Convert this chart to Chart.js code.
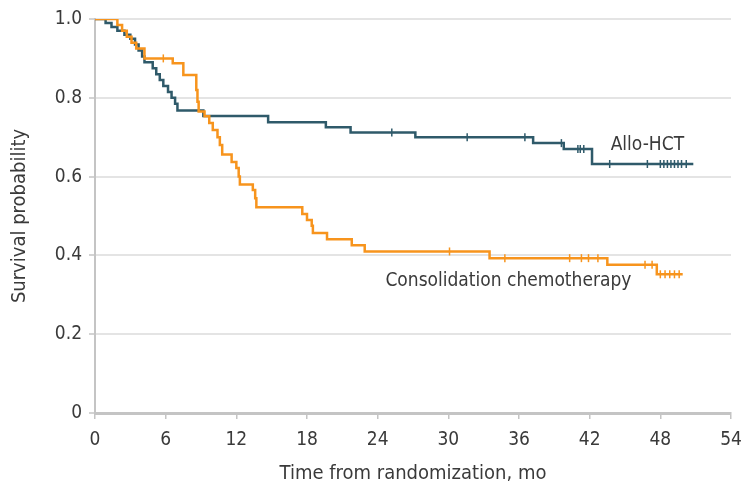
<!DOCTYPE html>
<html>
<head>
<meta charset="utf-8">
<script src="https://cdn.jsdelivr.net/npm/chart.js@4"></script>
<style>
  html, body { margin: 0; padding: 0; background: #fff; }
  #wrap { width: 741px; height: 486px; }
</style>
</head>
<body>
<div id="wrap"><canvas id="kmChart"></canvas></div>
<script>
// Kaplan-Meier step data: event times (months) and survival after each step
const alloTimes = [0, 0.9, 1.4, 1.9, 2.5, 3.0, 3.4, 3.7, 4.0, 4.2, 4.9, 5.2, 5.5, 5.8, 6.2, 6.5, 6.8, 7.0, 9.2, 14.7, 19.6, 21.7, 27.2, 37.2, 39.8, 42.2, 50.8];
const alloSurv  = [1.0, 0.99, 0.98, 0.97, 0.96, 0.95, 0.935, 0.92, 0.905, 0.89, 0.875, 0.86, 0.845, 0.83, 0.815, 0.80, 0.785, 0.768, 0.754, 0.738, 0.725, 0.712, 0.70, 0.685, 0.67, 0.632, 0.632];
const alloCensor = [25.2, 31.6, 36.5, 39.6, 41.0, 41.2, 41.5, 43.7, 46.9, 48.0, 48.3, 48.6, 48.9, 49.2, 49.5, 49.8, 50.2];

const chemoTimes = [0, 1.9, 2.3, 2.7, 3.1, 3.5, 4.2, 6.6, 7.5, 8.6, 8.7, 8.8, 9.3, 9.7, 10.0, 10.4, 10.6, 10.8, 11.6, 12.0, 12.2, 12.3, 13.4, 13.6, 13.7, 17.6, 18.0, 18.4, 18.5, 19.7, 21.8, 22.9, 33.5, 43.5, 47.7, 49.9];
const chemoSurv  = [1.0, 0.985, 0.97, 0.955, 0.94, 0.925, 0.90, 0.888, 0.858, 0.82, 0.79, 0.765, 0.753, 0.736, 0.718, 0.70, 0.68, 0.656, 0.637, 0.622, 0.60, 0.58, 0.566, 0.545, 0.522, 0.505, 0.49, 0.475, 0.457, 0.441, 0.426, 0.41, 0.393, 0.376, 0.352, 0.352];
const chemoCensor = [5.8, 30.1, 34.8, 40.3, 41.3, 41.9, 42.7, 46.7, 47.3, 48.0, 48.4, 48.8, 49.2, 49.6];

const xTicks = [0, 6, 12, 18, 24, 30, 36, 42, 48, 54];
const yTicks = [0, 0.2, 0.4, 0.6, 0.8, 1.0];

const TEAL = '#2f5a6a';
const ORANGE = '#f7941d';
const TEXT = '#3a3a3a';
const FONT = '"Liberation Sans Narrow", "DejaVu Sans Condensed", sans-serif';

function toPoints(times, surv) {
  return times.map((t, i) => ({ x: t, y: surv[i] }));
}

// survival level at time t (last step at or before t)
function survAt(times, surv, t) {
  let s = surv[0];
  for (let i = 0; i < times.length; i++) {
    if (times[i] <= t) s = surv[i];
  }
  return s;
}

function censorPoints(times, surv, cens) {
  return cens.map(t => ({ x: t, y: survAt(times, surv, t) }));
}

// curve labels drawn next to the lines
const curveLabels = {
  id: 'curveLabels',
  afterDatasetsDraw(chart) {
    const { ctx, scales } = chart;
    ctx.save();
    ctx.fillStyle = TEXT;
    ctx.font = '19px ' + FONT;
    ctx.textAlign = 'center';
    ctx.textBaseline = 'middle';
    ctx.fillText('Allo-HCT', scales.x.getPixelForValue(46.9), scales.y.getPixelForValue(0.68));
    ctx.fillText('Consolidation chemotherapy', scales.x.getPixelForValue(35.1), scales.y.getPixelForValue(0.335));
    ctx.restore();
  }
};

new Chart(document.getElementById('kmChart'), {
  type: 'line',
  data: {
    datasets: [
      {
        label: 'Consolidation chemotherapy',
        data: toPoints(chemoTimes, chemoSurv),
        borderColor: ORANGE,
        borderWidth: 2.5,
        stepped: true,
        pointRadius: 0,
        fill: false
      },
      {
        label: 'Allo-HCT',
        data: toPoints(alloTimes, alloSurv),
        borderColor: TEAL,
        borderWidth: 2.5,
        stepped: true,
        pointRadius: 0,
        fill: false
      },
      {
        type: 'scatter',
        label: 'chemo censored',
        data: censorPoints(chemoTimes, chemoSurv, chemoCensor),
        pointStyle: 'line',
        rotation: 90,
        pointRadius: 4,
        borderColor: ORANGE,
        borderWidth: 1.5
      },
      {
        type: 'scatter',
        label: 'allo censored',
        data: censorPoints(alloTimes, alloSurv, alloCensor),
        pointStyle: 'line',
        rotation: 90,
        pointRadius: 4,
        borderColor: TEAL,
        borderWidth: 1.5
      }
    ]
  },
  options: {
    responsive: true,
    maintainAspectRatio: false,
    animation: false,
    layout: { padding: { top: 19, right: 10, left: 4, bottom: 0 } },
    plugins: {
      legend: { display: false },
      tooltip: { enabled: false }
    },
    scales: {
      x: {
        type: 'linear',
        min: 0,
        max: 54,
        afterBuildTicks(axis) { axis.ticks = xTicks.map(v => ({ value: v })); },
        afterFit(axis) {
          axis.height = 73;
          axis.paddingLeft = 0;
          axis.paddingRight = 0;
        },
        ticks: {
          color: TEXT,
          font: { family: FONT, size: 19 },
          padding: 10,
          maxRotation: 0
        },
        grid: {
          drawOnChartArea: false,
          drawTicks: true,
          tickLength: 6,
          color: '#c4c4c4',
          lineWidth: 1.5
        },
        border: { color: '#c4c4c4', width: 3 },
        title: {
          display: true,
          text: 'Time from randomization, mo',
          color: TEXT,
          font: { family: FONT, size: 20 },
          padding: { top: 4, bottom: 0 }
        }
      },
      y: {
        min: 0,
        max: 1.0,
        afterBuildTicks(axis) { axis.ticks = yTicks.map(v => ({ value: v })); },
        afterFit(axis) { axis.width = 91; },
        ticks: {
          color: TEXT,
          font: { family: FONT, size: 19 },
          padding: 7,
          callback: v => (v === 0 ? '0' : v.toFixed(1))
        },
        grid: {
          color: '#e4e4e4',
          lineWidth: 2,
          tickLength: 6,
          tickColor: '#c4c4c4',
          tickWidth: 1.5
        },
        border: { color: '#c4c4c4', width: 2 },
        title: {
          display: true,
          text: 'Survival probability',
          color: TEXT,
          font: { family: FONT, size: 20 },
          padding: { bottom: 6 }
        }
      }
    }
  },
  plugins: [curveLabels]
});
</script>
</body>
</html>
